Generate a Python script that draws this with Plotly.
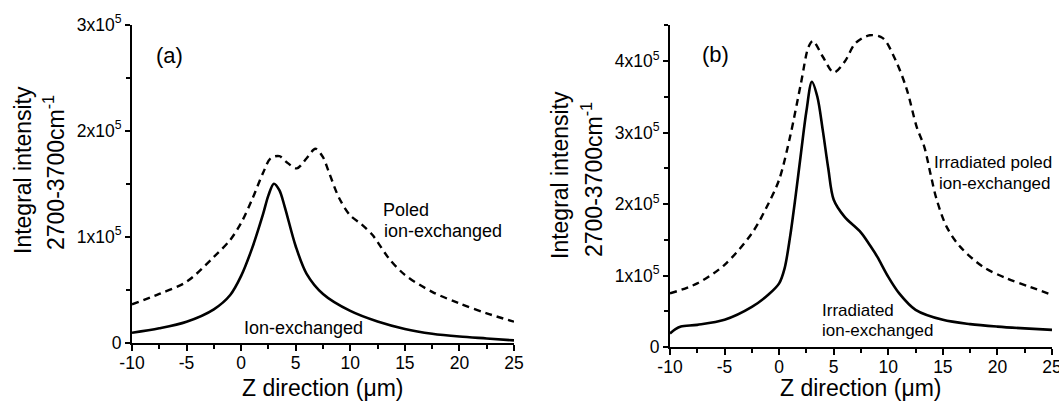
import plotly.graph_objects as go

W, H = 1059, 404

# ---------------- data (intensity in units of counts) ----------------
z_a_ion = [-10, -7.5, -5, -2.5, -1, 0, 1, 2, 2.5, 3, 3.5, 4, 5, 6, 7.5, 10, 12.5, 15, 17.5, 20, 22.5, 25]
i_a_ion = [9400, 13600, 19800, 31500, 45000, 63000, 89000, 121000, 139000, 150000, 144000, 128000,
           91000, 65000, 46000, 30000, 20000, 13000, 8500, 5800, 4000, 2200]

z_a_poled = [-10, -7.5, -5, -2.5, -1, 0, 1, 2, 2.7, 3.5, 4.2, 5.1, 6, 6.8, 7.5, 8, 9, 10, 11, 12,
             12.5, 13.5, 15, 17.5, 20, 22.5, 25]
i_a_poled = [36200, 46000, 57500, 81000, 97000, 113000, 135000, 160000, 174000, 176000, 170000,
             164500, 174000, 183000, 175000, 162000, 136000, 120000, 112000, 102000,
             95000, 80000, 64000, 48000, 37000, 27700, 19800]

z_b_irr = [-10, -9.5, -9, -7.5, -5, -2.5, -1, 0, 0.5, 1, 1.5, 2, 2.5, 3, 3.5, 4, 4.5, 5, 6, 7.5,
           8.5, 9, 10, 11, 12.5, 15, 17.5, 20, 22.5, 25]
i_b_irr = [19000, 25000, 28500, 31000, 38000, 56000, 73000, 89000, 110000, 154000, 210000, 271000,
           330000, 371000, 350000, 303000, 250000, 206000, 182000, 160000, 138000, 126000,
           98000, 75000, 52000, 38000, 32000, 28500, 26000, 24000]

z_b_irr_poled = [-10, -7.5, -5, -2.5, -1, 0, 1, 2, 2.7, 3.1, 4, 5, 6, 7, 8.3, 9.5, 10.7, 11.7,
                 12.6, 13.3, 13.9, 14.4, 15.35, 16.6, 18.7, 20.85, 23, 25]
i_b_irr_poled = [75000, 89000, 115000, 159000, 200000, 234000, 294000, 369000, 420000, 428000,
                 406000, 384000, 399000, 425000, 436000, 432000, 400000, 360000,
                 308000, 280000, 240000, 208000, 168000, 140000, 112000, 96000, 84000, 73000]

x_ticks = [-10, -5, 0, 5, 10, 15, 20, 25]
x_ticktext = ["-10", "-5", "0", "5", "10", "15", "20", "25"]
y_ticks_a = [0, 100000, 200000, 300000]
y_ticks_b = [0, 100000, 200000, 300000, 400000]
y_ticktext_a = ["0", "1x10<sup>5</sup>", "2x10<sup>5</sup>", "3x10<sup>5</sup>"]
y_ticktext_b = ["0", "1x10<sup>5</sup>", "2x10<sup>5</sup>", "3x10<sup>5</sup>", "4x10<sup>5</sup>"]

FONT = "Liberation Sans, Arial, sans-serif"

fig = go.Figure()
line_solid = dict(color="black", width=2.6, shape="spline", smoothing=0.9)
line_dash = dict(color="black", width=2.4, dash="7px,5px", shape="spline", smoothing=0.9)

fig.add_trace(go.Scatter(x=z_a_poled, y=i_a_poled, mode="lines", line=line_dash, xaxis="x", yaxis="y"))
fig.add_trace(go.Scatter(x=z_a_ion, y=i_a_ion, mode="lines", line=line_solid, xaxis="x", yaxis="y"))
fig.add_trace(go.Scatter(x=z_b_irr_poled, y=i_b_irr_poled, mode="lines", line=line_dash, xaxis="x2", yaxis="y2"))
fig.add_trace(go.Scatter(x=z_b_irr, y=i_b_irr, mode="lines", line=line_solid, xaxis="x2", yaxis="y2"))


def xax(domain, anchor):
    return dict(domain=domain, anchor=anchor, range=[-10, 25], tickvals=x_ticks, ticktext=x_ticktext,
                automargin=False, ticklabeloverflow="allow",
                showline=True, linecolor="black", linewidth=2, ticks="outside", ticklen=6,
                tickwidth=1.5, tickcolor="black", showgrid=False, zeroline=False,
                ticklabelstandoff=-3,
                tickfont=dict(family=FONT, size=17.5, color="black"),
                minor=dict(ticks="outside", ticklen=4, tickwidth=1.5, tickcolor="black",
                           dtick=2.5, tick0=-10, showgrid=False))


def yax(domain, anchor, rng, tv, tt):
    return dict(domain=domain, anchor=anchor, range=rng, tickvals=tv, ticktext=tt,
                automargin=False, ticklabeloverflow="allow",
                showline=True, linecolor="black", linewidth=2, ticks="outside", ticklen=5,
                tickwidth=1.5, tickcolor="black", showgrid=False, zeroline=False,
                tickfont=dict(family=FONT, size=17.5, color="black"),
                minor=dict(ticks="outside", ticklen=4, tickwidth=1.5, tickcolor="black",
                           dtick=50000, tick0=0, showgrid=False))


def px_x(p):
    return p / W


def px_y(p):
    return 1 - p / H


annots = []


def txt(text, x, y, size, xref, yref, xanchor="left", yanchor="middle", angle=0):
    annots.append(dict(text=text, x=x, y=y, xref=xref, yref=yref, xanchor=xanchor,
                       yanchor=yanchor, showarrow=False, textangle=angle,
                       font=dict(family=FONT, size=size, color="black")))


# panel labels & curve labels (data coords)
txt("(a)", -6.56, 271400, 22, "x", "y", xanchor="center")
txt("Ion-exchanged", 0.08, 13900, 18, "x", "y")
txt("Poled", 12.8, 125500, 18, "x", "y")
txt("ion-exchanged", 12.95, 105400, 18, "x", "y")

txt("(b)", -5.83, 409800, 22, "x2", "y2", xanchor="center")
txt("Irradiated poled", 13.98, 258700, 17, "x2", "y2")
txt("ion-exchanged", 14.44, 228000, 17, "x2", "y2")
txt("Irradiated", 3.74, 51700, 17, "x2", "y2")
txt("ion-exchanged", 3.74, 22400, 17, "x2", "y2")

# axis titles (paper coords)
txt("Z direction (\u03bcm)", px_x(323), px_y(388), 23, "paper", "paper", xanchor="center")
txt("Z direction (\u03bcm)", px_x(861), px_y(388), 23, "paper", "paper", xanchor="center")
txt("Integral intensity", px_x(23), px_y(170), 23, "paper", "paper", xanchor="center", angle=-90)
txt("2700-3700cm<sup>-1</sup>", px_x(54), px_y(173), 23, "paper", "paper", xanchor="center", angle=-90)
txt("Integral intensity", px_x(560), px_y(175), 23, "paper", "paper", xanchor="center", angle=-90)
txt("2700-3700cm<sup>-1</sup>", px_x(592), px_y(180), 23, "paper", "paper", xanchor="center", angle=-90)

fig.update_layout(
    width=W, height=H, margin=dict(l=0, r=0, t=0, b=0, autoexpand=False),
    paper_bgcolor="white", plot_bgcolor="white", showlegend=False,
    font=dict(family=FONT, color="black"),
    xaxis=xax([132 / W, 514 / W], "y"),
    yaxis=yax([px_y(342.7), px_y(24.7)], "x", [0, 300000], y_ticks_a, y_ticktext_a),
    xaxis2=xax([670 / W, 1052 / W], "y2"),
    yaxis2=yax([px_y(347), px_y(24.7)], "x2", [0, 450800], y_ticks_b, y_ticktext_b),
    annotations=annots,
)

fig.write_html("out.html")
